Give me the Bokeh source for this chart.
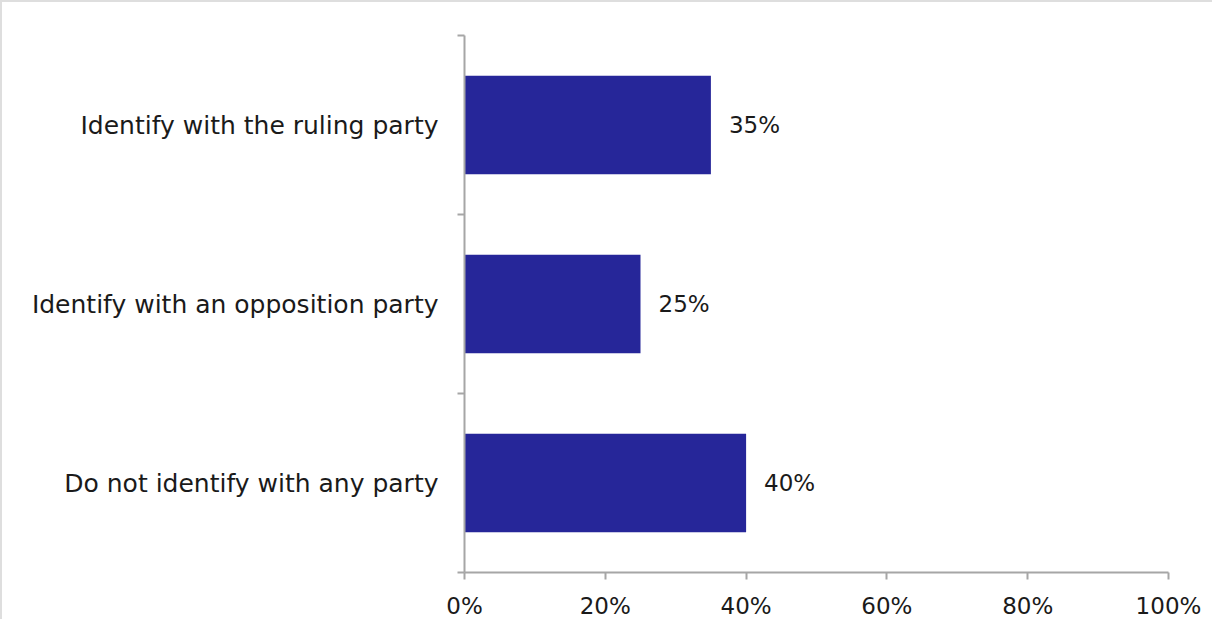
from bokeh.plotting import figure
from bokeh.models import ColumnDataSource, Range1d, FixedTicker, PrintfTickFormatter, LabelSet
from bokeh.core.properties import value
from bokeh.embed import file_html
from bokeh.resources import INLINE

categories = ["Do not identify with any party", "Identify with an opposition party", "Identify with the ruling party"]
values = [40, 25, 35]
x_ticks = [0, 20, 40, 60, 80, 100]

FONT = "DejaVu Sans"
FS_CAT = "25px"
FS_NUM = "23px"
AXIS = "#a6a6a6"
BAR = "#262699"
TXT = "#1a1a1a"

ypos = [i + 0.5 for i in range(len(categories))]
src = ColumnDataSource(dict(y=ypos, v=values, lab=[f"{v}%" for v in values]))

p = figure(width=1212, height=619, output_backend="svg", toolbar_location=None,
           x_range=Range1d(0, 100), y_range=Range1d(0, len(categories)),
           min_border_left=462, min_border_right=46, min_border_top=33, min_border_bottom=49)
p.styles = {"border-top": "2px solid #dedede", "border-left": "2px solid #dedede"}
p.outline_line_color = None
p.grid.grid_line_color = None

p.hbar(y="y", right="v", left=0, height=0.55, source=src, fill_color=BAR, line_color=None)

p.add_layout(LabelSet(x="v", y="y", text="lab", source=src, x_offset=18, y_offset=0,
                      text_baseline="middle", text_align="left", text_font=value(FONT),
                      text_font_size=FS_NUM, text_color=TXT))

xa = p.xaxis[0]
xa.ticker = FixedTicker(ticks=x_ticks)
xa.formatter = PrintfTickFormatter(format="%d%%")
xa.axis_line_color = AXIS
xa.axis_line_width = 2
xa.major_tick_line_color = AXIS
xa.major_tick_line_width = 2
xa.major_tick_out = 7
xa.major_tick_in = 0
xa.minor_tick_line_color = None
xa.major_label_text_font = FONT
xa.major_label_text_font_size = FS_NUM
xa.major_label_text_color = TXT
xa.major_label_standoff = 13

ya = p.yaxis[0]
ya.ticker = FixedTicker(ticks=ypos, minor_ticks=list(range(len(categories) + 1)))
ya.major_label_overrides = {y: c for y, c in zip(ypos, categories)}
ya.axis_line_color = AXIS
ya.axis_line_width = 2
ya.major_tick_line_color = None
ya.major_tick_out = 0
ya.major_tick_in = 0
ya.minor_tick_line_color = AXIS
ya.minor_tick_line_width = 2
ya.minor_tick_out = 7
ya.minor_tick_in = 0
ya.major_label_text_font = FONT
ya.major_label_text_font_size = FS_CAT
ya.major_label_text_color = TXT
ya.major_label_standoff = 19

open("out.html", "w").write(file_html(p, INLINE))
